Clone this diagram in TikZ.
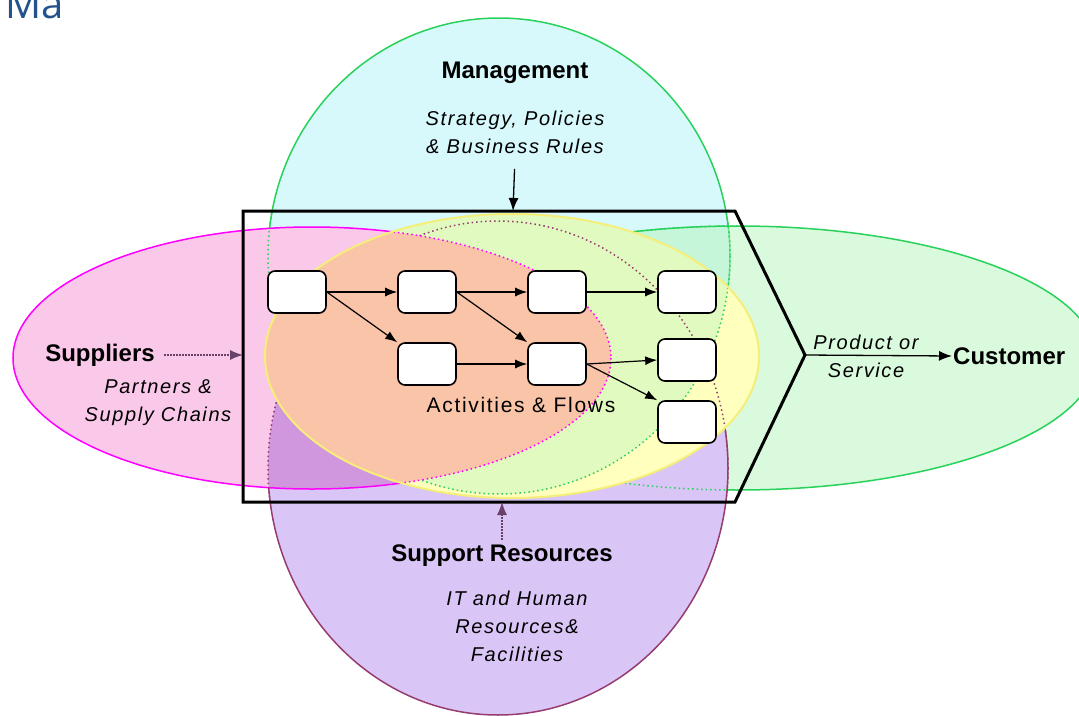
\documentclass[tikz,border=0pt]{standalone}
\usepackage{fontspec}
\setmainfont{Liberation Sans}
\newfontfamily\spaced[LetterSpace=8]{Liberation Sans}
\newfontfamily\titlefont{Open Sans}
\usepackage{tikz}
\usetikzlibrary{arrows.meta, positioning}

\definecolor{titleblue}{RGB}{36,82,140}
\definecolor{mgmtfill}{RGB}{215,249,252}
\definecolor{mgmtline}{RGB}{40,210,90}
\definecolor{custfill}{RGB}{180,245,185}
\definecolor{resfill}{RGB}{218,198,246}
\definecolor{resline}{RGB}{150,60,110}
\definecolor{suppfill}{RGB}{250,200,232}
\definecolor{suppline}{RGB}{255,0,255}
\definecolor{mixfill}{RGB}{208,150,222}
\definecolor{actfill}{RGB}{255,255,190}
\definecolor{actline}{RGB}{245,238,120}
\definecolor{actmgmt}{RGB}{225,250,192}
\definecolor{actsupp}{RGB}{250,196,168}
\definecolor{dotgray}{RGB}{105,65,105}

\tikzstyle{line} = [draw, -{Latex[length=13pt, width=10pt]}, line width=1.3pt]
\tikzstyle{dotline} = [draw=dotgray, dash pattern=on 1.3pt off 1.7pt, line width=1.3pt, -{Latex[length=13pt, width=10pt]}]
\tikzstyle{flowline} = [draw, -{Latex[length=12pt, width=9pt]}, line width=1.2pt]
\tikzstyle{act} = [draw, fill=white, rounded corners=7pt, minimum width=58pt, minimum height=42pt, line width=1.6pt, node distance=130pt]
\tikzstyle{head} = [font=\fontsize{24}{24}\selectfont\bfseries]
\tikzstyle{note} = [align=center, font=\spaced\itshape\fontsize{20}{28}\selectfont]
\tikzstyle{flowtext} = [font=\spaced\fontsize{21}{21}\selectfont]
\tikzstyle{oval} = [line width=1.5pt]
\tikzstyle{rim} = [line width=1.5pt, dash pattern=on 1.5pt off 3pt]
\tikzstyle{chevron} = [draw, line width=3pt]

\begin{document}
\begin{tikzpicture}[x=1pt, y=-1pt]
	\useasboundingbox (0,0) rectangle (1079,715);
	\coordinate (tl) at (243,211);
	\coordinate (tr) at (735,211);
	\coordinate (tip) at (805,355);
	\coordinate (br) at (735,502);
	\coordinate (bl) at (243,502);
	\coordinate (min) at (513,211);
	\coordinate (sin) at (243,355);
	\coordinate (rin) at (502,502);

	\node [anchor=base east, inner sep=0pt, text=titleblue, font=\titlefont\fontsize{40}{40}\selectfont] (ma) at (64,18) {Ma};

	\path [oval, fill=mgmtfill, draw=mgmtline] (499,256) ellipse [x radius=231, y radius=238];
	\path [oval, fill=custfill, fill opacity=0.5, draw=mgmtline] (738,358) ellipse [x radius=358, y radius=132];
	\path [oval, fill=resfill, draw=resline] (498,468) ellipse [x radius=230, y radius=247];
	\fill [suppfill] (312,358) ellipse [x radius=299, y radius=131];
	\begin{scope}
		\clip (498,468) ellipse [x radius=230, y radius=247];
		\fill [mixfill] (312,358) ellipse [x radius=299, y radius=131];
	\end{scope}
	\draw [oval, suppline] (312,358) ellipse [x radius=299, y radius=131];

	% outlines seen through the box
	\begin{scope}
		\clip (tl) -- (tr) -- (tip) -- (br) -- (bl) -- cycle;
		\draw [rim, mgmtline] (499,256) ellipse [x radius=231, y radius=238];
		\draw [rim, mgmtline] (738,358) ellipse [x radius=358, y radius=132];
		\draw [rim, resline] (498,468) ellipse [x radius=230, y radius=247];
	\end{scope}

	\fill [actfill] (512,356) ellipse [x radius=247, y radius=142];
	\begin{scope}
		\clip (512,356) ellipse [x radius=247, y radius=142];
		\fill [actmgmt] (499,256) ellipse [x radius=231, y radius=238];
		\draw [rim, mgmtline] (499,256) ellipse [x radius=231, y radius=238];
		\draw [rim, resline] (498,468) ellipse [x radius=230, y radius=247];
		\fill [actsupp] (312,358) ellipse [x radius=299, y radius=131];
		\draw [rim, suppline] (312,358) ellipse [x radius=299, y radius=131];
	\end{scope}
	\draw [line width=2pt, actline] (512,356) ellipse [x radius=247, y radius=142];

	\draw [chevron] (tl) -- (tr) -- (tip) -- (br) -- (bl) -- cycle;

	\node [act] (a1) at (297,292) {};
	\node [act, right of=a1] (a2) {};
	\node [act, right of=a2] (a3) {};
	\node [act, right of=a3] (a4) {};
	\node [act, below of=a2, node distance=72pt] (b2) {};
	\node [act, right of=b2] (b3) {};
	\node [act, right of=b3, yshift=4pt] (b4) {};
	\node [act, below of=b4, node distance=62pt] (c4) {};

	\path [flowline] (a1.east) to (a2.west);
	\path [flowline] (a2.east) to (a3.west);
	\path [flowline] (a3.east) to (a4.west);
	\path [flowline] (a1.east) to (b2.north west);
	\path [flowline] (a2.east) to (b3.north west);
	\path [flowline] (b2.east) to (b3.west);
	\path [flowline] (b3.east) to (b4.west);
	\path [flowline] (b3.east) to (c4.north west);

	\node [flowtext] (flow) at (521,405) {Activities \& Flows};

	\node [head] (mgmt) at (515,73) {Management};
	\node [note, below of=mgmt, node distance=59pt] (strat) {Strategy, Policies\\\& Business Rules};
	\path [line, shorten <=12pt] (strat.south) to (min);

	\node [head] (supp) at (100,355) {Suppliers};
	\node [note] (chain) at (158,403) {Partners \&\\Supply Chains};
	\path [dotline, shorten <=6pt] (supp.east) to (sin);

	\node [head] (res) at (502,556) {Support Resources};
	\node [note] (it) at (517,626) {IT and Human\\Resources\&\\Facilities};
	\path [dotline, shorten <=2pt] (res.north) to (rin);

	\node [note] (prod) at (866,356) {Product or\\Service};
	\node [head, anchor=west, inner sep=1pt] (cust) at (952,356) {Customer};
	\path [line] (tip) to (cust.west);
\end{tikzpicture}
\end{document}
